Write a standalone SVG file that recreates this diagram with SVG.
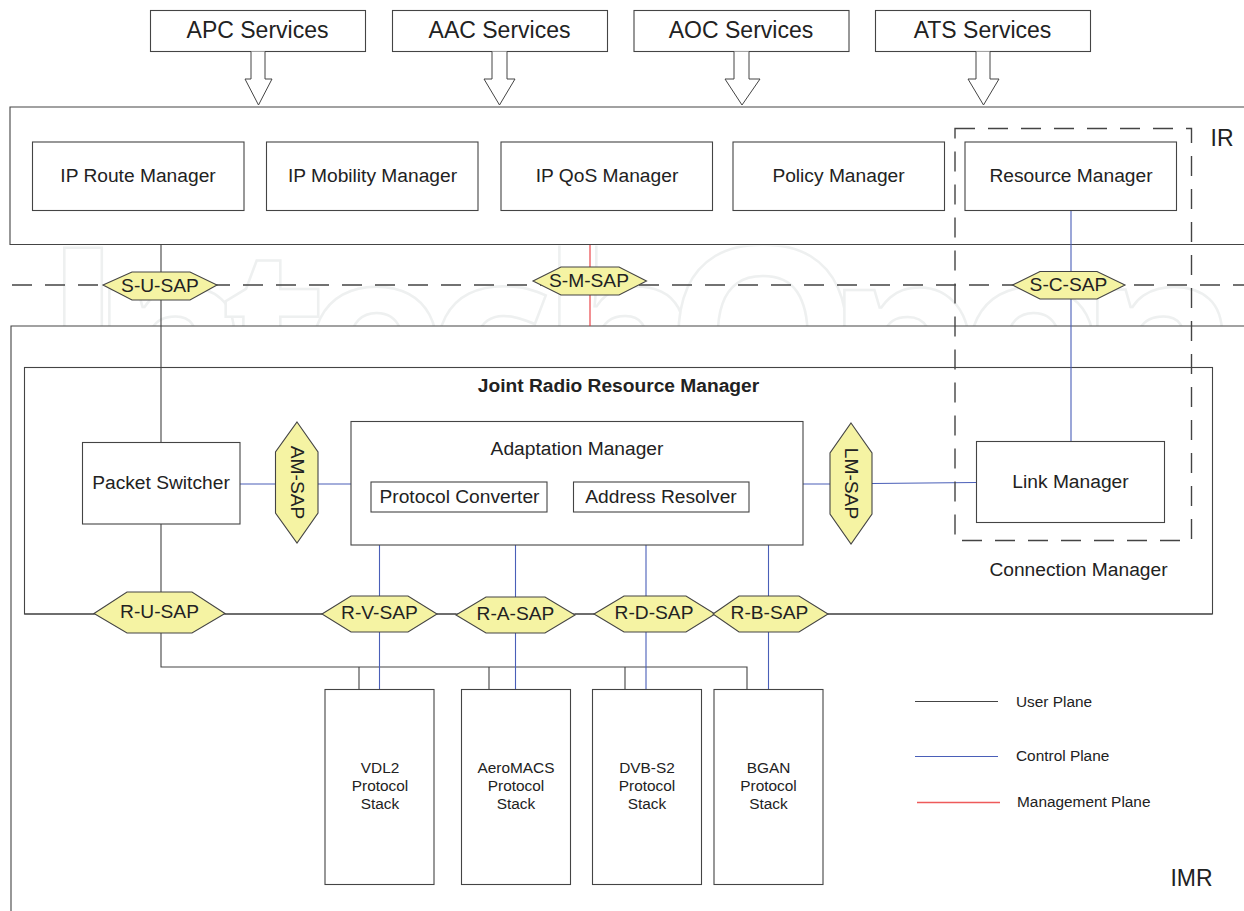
<svg xmlns="http://www.w3.org/2000/svg" width="1244" height="911" viewBox="0 0 1244 911">
<style>
text{font-family:"Liberation Sans",Arial,sans-serif;fill:#222;text-anchor:middle}
.box{fill:#fff;stroke:#444;stroke-width:1.1}
.frame{fill:none;stroke:#444;stroke-width:1.1}
.sap{fill:#f5f3a3;stroke:#444;stroke-width:1.1}
.arrow{fill:#fff;stroke:#444;stroke-width:1}
.u{stroke:#444;stroke-width:1.1;fill:none}
.c{stroke:#4a5fb8;stroke-width:1.1;fill:none}
.mgmt{stroke:#e8353a;stroke-width:1.1;fill:none}
.dash{stroke:#444;stroke-width:1.4;fill:none;stroke-dasharray:20 13}
.t18{font-size:19.2px}
.t22{font-size:23px}
.t14{font-size:15.4px}
.leg{font-size:15.4px;text-anchor:start}
</style>
<defs><clipPath id="wm"><rect x="0" y="245.500" width="1244" height="80.500"/></clipPath></defs>
<g id="watermark" clip-path="url(#wm)"><text x="42 90 220 301 426 540 664 825 958 1078" y="425" font-size="248" font-weight="bold" style="font-family:'Open Sans',sans-serif;fill:#fff;stroke:#eef0f0;stroke-width:2.5;text-anchor:start">IntechOpen</text></g>
<g id="frames">
<path id="IR" class="frame" d="M1244 107H10V244.500H1244"/>
<path id="IMR" class="frame" d="M1244 326H11V911"/>
<rect id="JRRM" class="frame" x="24.500" y="367.500" width="1188" height="246.500"/>
</g>
<g id="connectors">
<path class="u" d="M161 244.500V442M161 524V592M161 633V667H747V689M359 667V689M489 667V689M625 667V689M24.500 614H94M225 614H322M437 614H456M575 614H594M828 614H1212"/>
<path class="c" d="M1071 210.500V441M240 484H351M803 484H830M872 483.500L976 482.500M379.500 545V689M515.500 545V689M646 545V689M768.500 545V689"/>
<path class="dash" d="M12 285H1244"/>
<line class="mgmt" x1="590" y1="245" x2="590" y2="326"/>
<rect class="dash" x="955" y="128.500" width="236.500" height="412"/>
</g>
<g id="APC"><rect class="box" x="150.500" y="10.500" width="215" height="41"/><text class="t22" x="257.500" y="38">APC Services</text><path class="arrow" d="M251 51.500V79H245L258.500 105L272 79H265V51.500"/></g>
<g id="AAC"><rect class="box" x="392.500" y="10.500" width="215" height="41"/><text class="t22" x="499.500" y="38">AAC Services</text><path class="arrow" d="M492 51.500V79H484L499.500 105L515 79H507V51.500"/></g>
<g id="AOC"><rect class="box" x="634" y="10.500" width="215" height="41"/><text class="t22" x="741" y="38">AOC Services</text><path class="arrow" d="M734 51.500V79H725L742 105L760 79H749V51.500"/></g>
<g id="ATS"><rect class="box" x="875.500" y="10.500" width="215" height="41"/><text class="t22" x="982.500" y="38">ATS Services</text><path class="arrow" d="M976 51.500V79H968L983.500 105L999 79H990V51.500"/></g>
<g id="RouteMgr"><rect class="box" x="32.500" y="142" width="211.500" height="68.500"/><text class="t18" x="138" y="182">IP Route Manager</text></g>
<g id="MobilityMgr"><rect class="box" x="266.500" y="142" width="211.500" height="68.500"/><text class="t18" x="372.500" y="182">IP Mobility Manager</text></g>
<g id="QoSMgr"><rect class="box" x="501" y="142" width="211.500" height="68.500"/><text class="t18" x="607" y="182">IP QoS Manager</text></g>
<g id="PolicyMgr"><rect class="box" x="733" y="142" width="211.500" height="68.500"/><text class="t18" x="838.500" y="182">Policy Manager</text></g>
<g id="ResourceMgr"><rect class="box" x="965" y="142" width="211.500" height="68.500"/><text class="t18" x="1071" y="182">Resource Manager</text></g>
<g id="SUSAP"><path class="sap" d="M103 285L132 272H190L217 285L190 300H132Z"/><text class="t18" x="160" y="291.500">S-U-SAP</text></g>
<g id="SMSAP"><path class="sap" d="M533 281L561 267H619L646.500 281L619 295H561Z"/><text class="t18" x="589" y="287">S-M-SAP</text></g>
<g id="SCSAP"><path class="sap" d="M1012.500 285L1040 271.500H1097L1125 285L1097 299H1040Z"/><text class="t18" x="1068.500" y="291">S-C-SAP</text></g>
<g id="JRRMTitle"><text x="618.500" y="392" font-size="19.200" font-weight="bold">Joint Radio Resource Manager</text></g>
<g id="PacketSwitcher"><rect class="box" x="82.500" y="442.500" width="157.500" height="81.500"/><text class="t18" x="161" y="489">Packet Switcher</text></g>
<g id="AMSAP"><path class="sap" d="M297 422L318 452V513L297 543L275.500 513V452Z"/><text class="t18" transform="translate(290.500 482.500) rotate(90)">AM-SAP</text></g>
<g id="AdaptationMgr"><rect class="box" x="351" y="421.500" width="452" height="123.500"/><text class="t18" x="577" y="455">Adaptation Manager</text></g>
<g id="ProtocolConverter"><rect class="box" x="371" y="482" width="176" height="30"/><text class="t18" x="459.500" y="503">Protocol Converter</text></g>
<g id="AddressResolver"><rect class="box" x="573.500" y="482" width="175.500" height="30"/><text class="t18" x="661" y="503">Address Resolver</text></g>
<g id="LMSAP"><path class="sap" d="M851 423L872 453V514L851 544L830 514V453Z"/><text class="t18" transform="translate(844.500 483.500) rotate(90)">LM-SAP</text></g>
<g id="LinkMgr"><rect class="box" x="976.500" y="441.500" width="188" height="81"/><text class="t18" x="1070.500" y="488">Link Manager</text></g>
<g id="ConnMgrLabel"><text class="t18" x="1078.500" y="576">Connection Manager</text></g>
<g id="RUSAP"><path class="sap" d="M94 613.500L127 592H192L225 613.500L192 633H127Z"/><text class="t18" x="159.500" y="618">R-U-SAP</text></g>
<g id="RVSAP"><path class="sap" d="M322 614L351 596H408L437 614L408 632H351Z"/><text class="t18" x="379.500" y="619">R-V-SAP</text></g>
<g id="RASAP"><path class="sap" d="M456 615L486 597H545L575 615L545 633H486Z"/><text class="t18" x="515.500" y="620">R-A-SAP</text></g>
<g id="RDSAP"><path class="sap" d="M594 614L624 596H686L715 614L686 632H624Z"/><text class="t18" x="654" y="619">R-D-SAP</text></g>
<g id="RBSAP"><path class="sap" d="M713 614L739 596H799L828 614L799 632H739Z"/><text class="t18" x="769.500" y="619">R-B-SAP</text></g>
<g id="VDL2"><rect class="box" x="325" y="689.500" width="109" height="195"/><text class="t14" x="380" y="773">VDL2</text><text class="t14" x="380" y="791">Protocol</text><text class="t14" x="380" y="809">Stack</text></g>
<g id="AeroMACS"><rect class="box" x="461.500" y="689.500" width="109" height="195"/><text class="t14" x="516" y="773">AeroMACS</text><text class="t14" x="516" y="791">Protocol</text><text class="t14" x="516" y="809">Stack</text></g>
<g id="DVBS2"><rect class="box" x="592.500" y="689.500" width="109" height="195"/><text class="t14" x="647" y="773">DVB-S2</text><text class="t14" x="647" y="791">Protocol</text><text class="t14" x="647" y="809">Stack</text></g>
<g id="BGAN"><rect class="box" x="714" y="689.500" width="109" height="195"/><text class="t14" x="768.500" y="773">BGAN</text><text class="t14" x="768.500" y="791">Protocol</text><text class="t14" x="768.500" y="809">Stack</text></g>
<g id="legend">
<path class="u" d="M915 701.500H998"/><text class="leg" x="1016" y="707">User Plane</text>
<path class="c" d="M915 756.500H998"/><text class="leg" x="1016" y="761">Control Plane</text>
<path class="mgmt" style="stroke-width:1.4;stroke:#ee5a5a" d="M917 802.500H1000"/><text class="leg" x="1017" y="807">Management Plane</text>
</g>
<g id="regionLabels"><text x="1222" y="146" font-size="23">IR</text><text x="1191.500" y="886" font-size="23">IMR</text></g>
</svg>
